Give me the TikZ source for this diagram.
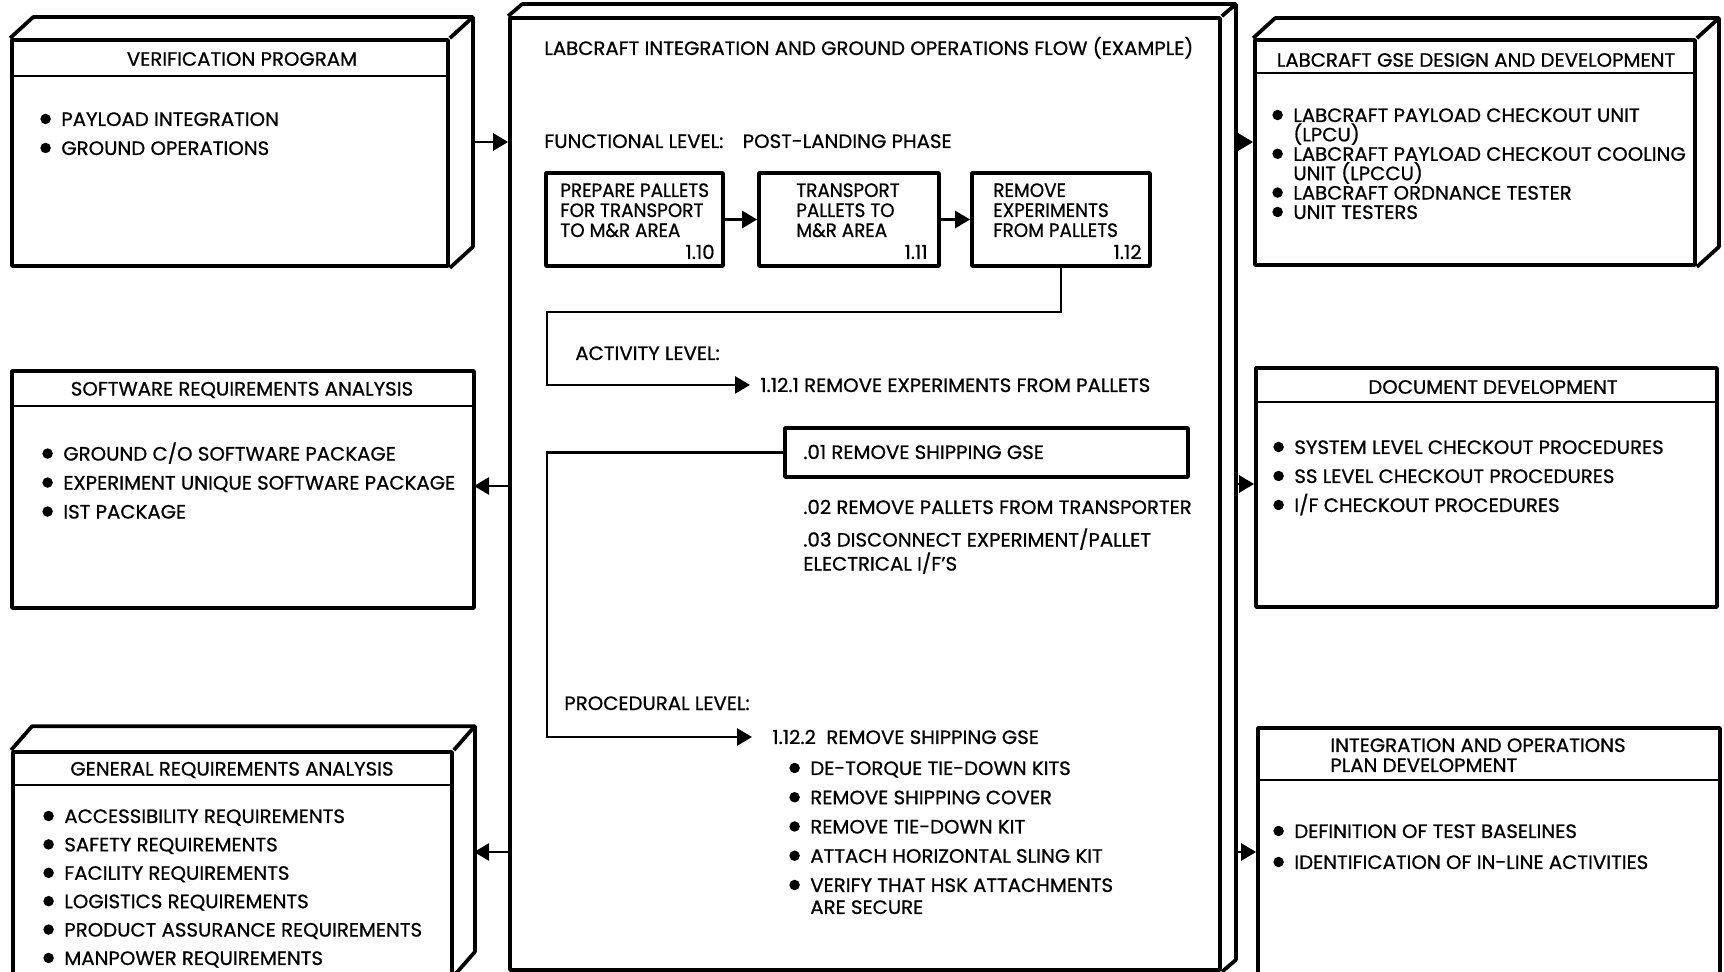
\documentclass[tikz,border=0pt]{standalone}
\usepackage{fontspec}
\setmainfont{Poppins}[FakeStretch=1.02,FakeBold=0.8]
\newfontfamily\narrowfont{Poppins}[FakeStretch=0.95,FakeBold=0.8]
\usetikzlibrary{arrows.meta,fit}
\newcommand\fsz[1]{\fontsize{11pt}{#1}\selectfont}
\newcommand\bu{\makebox[4.2mm][l]{\tikz[baseline=-1.4mm]\fill (1mm,0) circle (1.05mm);}}
\newcommand\nobu{\hspace*{4.2mm}}
\newcommand\boxdepth[3]{%
  \draw[frame] (#1.north west) -- ++(#2,-#3) -- ([shift={(#2,-#3)}]#1.north east) -- ([shift={(#2,-#3)}]#1.south east) -- (#1.south east);
  \draw[frame] (#1.north east) -- ++(#2,-#3);}
\begin{document}
\begin{tikzpicture}[x=0.02cm,y=-0.02cm,
  frame/.style={draw,line width=0.75mm,inner sep=0pt,line join=round},
  sep/.style={line width=0.55mm},
  conn/.style={line width=0.55mm},
  arr/.style={-{Triangle[length=3mm,width=3.4mm]}},
  txt/.style={inner sep=0pt,anchor=base west,font=\fsz{13pt}},
  ttl/.style={inner sep=0pt,anchor=center,font=\fsz{13pt}},
  lst/.style={inner sep=0pt,anchor=north west,align=left,font=\fsz{#1}},
  flst/.style={inner sep=0pt,anchor=north west,align=left,font=\narrowfont\fsz{4mm}},
]
\useasboundingbox (0,0) rectangle (1724,972);

% ---------- left column ----------
\node[frame,fit={(12,40) (448,266)}] (vp) {};
\boxdepth{vp}{23}{21}
\draw[sep] ([yshift=-7.6mm]vp.north west) -- ([yshift=-7.6mm]vp.north east);
\node[ttl] (vpt) at (242,59) {VERIFICATION PROGRAM};
\node[lst=5.8mm] (vpl) at (40,112) {\bu PAYLOAD INTEGRATION\\\bu GROUND OPERATIONS};

\node[frame,fit={(12,371) (474,608)}] (sw) {};
\draw[sep] ([yshift=-7.4mm]sw.north west) -- ([yshift=-7.4mm]sw.north east);
\node[ttl] (swt) at (242,390) {SOFTWARE REQUIREMENTS ANALYSIS};
\node[lst=5.8mm] (swl) at (42,442) {\bu GROUND C/O SOFTWARE PACKAGE\\\bu EXPERIMENT UNIQUE SOFTWARE PACKAGE\\\bu IST PACKAGE};

\node[frame,fit={(13,752) (452,974)}] (gr) {};
\boxdepth{gr}{21}{24}
\draw[sep] ([yshift=-7mm]gr.north west) -- ([yshift=-7mm]gr.north east);
\node[ttl] (grt) at (232,770) {GENERAL REQUIREMENTS ANALYSIS};
\node[lst=5.68mm] (grl) at (43,809) {\bu ACCESSIBILITY REQUIREMENTS\\\bu SAFETY REQUIREMENTS\\\bu FACILITY REQUIREMENTS\\\bu LOGISTICS REQUIREMENTS\\\bu PRODUCT ASSURANCE REQUIREMENTS\\\bu MANPOWER REQUIREMENTS};

% ---------- right column ----------
\node[frame,fit={(1255,40) (1695,265)}] (gse) {};
\boxdepth{gse}{22}{20}
\draw[sep] ([yshift=-7mm]gse.north west) -- ([yshift=-7mm]gse.north east);
\node[ttl] (gset) at (1476,60) {LABCRAFT GSE DESIGN AND DEVELOPMENT};
\node[lst=3.88mm] (gsel) at (1272,108) {\bu LABCRAFT PAYLOAD CHECKOUT UNIT\\\nobu (LPCU)\\\bu LABCRAFT PAYLOAD CHECKOUT COOLING\\\nobu UNIT (LPCCU)\\\bu LABCRAFT ORDNANCE TESTER\\\bu UNIT TESTERS};

\node[frame,fit={(1256,368) (1717,607)}] (doc) {};
\draw[sep] ([yshift=-7.2mm]doc.north west) -- ([yshift=-7.2mm]doc.north east);
\node[ttl] (doct) at (1493,387) {DOCUMENT DEVELOPMENT};
\node[lst=5.8mm] (docl) at (1273,440) {\bu SYSTEM LEVEL CHECKOUT PROCEDURES\\\bu SS LEVEL CHECKOUT PROCEDURES\\\bu I/F CHECKOUT PROCEDURES};

\node[frame,fit={(1258,728) (1720,995)}] (iop) {};
\draw[sep] ([yshift=-10.8mm]iop.north west) -- ([yshift=-10.8mm]iop.north east);
\node[lst=4mm] (iopt) at (1330,738) {INTEGRATION AND OPERATIONS\\PLAN DEVELOPMENT};
\node[lst=6.2mm] (iopl) at (1273,824) {\bu DEFINITION OF TEST BASELINES\\\bu IDENTIFICATION OF IN-LINE ACTIVITIES};

% ---------- central box ----------
\node[frame,fit={(510,18) (1220,970)}] (cen) {};
\boxdepth{cen}{14}{12}
\node[txt] (ctitle) at (544,55) {LABCRAFT INTEGRATION AND GROUND OPERATIONS FLOW (EXAMPLE)};
\node[txt] (flev) at (544,148) {FUNCTIONAL LEVEL:\quad POST-LANDING PHASE};

\node[frame,fit={(546,173) (723,266)}] (f1) {};
\node[frame,fit={(759,173) (939,266)}] (f2) {};
\node[frame,fit={(972,173) (1150,266)}] (f3) {};
\node[flst] (f1t) at (560,183) {PREPARE PALLETS\\FOR TRANSPORT\\TO M\&R AREA};
\node[txt,anchor=base east] (f1n) at (715,259) {1.10};
\node[flst] (f2t) at (796,183) {TRANSPORT\\PALLETS TO\\M\&R AREA};
\node[txt,anchor=base east] (f2n) at (928,259) {1.11};
\node[flst] (f3t) at (993,183) {REMOVE\\EXPERIMENTS\\FROM PALLETS};
\node[txt,anchor=base east] (f3n) at (1142,259) {1.12};
\draw[conn,arr] (f1) -- (f2);
\draw[conn,arr] (f2) -- (f3);

\node[txt] (alev) at (575,360) {ACTIVITY LEVEL:};
\node[txt,inner xsep=2mm] (a121) at (750,392) {1.12.1 REMOVE EXPERIMENTS FROM PALLETS};
\coordinate (k1) at (547,312);
\draw[conn,arr] (f3.south) |- (k1) |- (a121.west);

\node[frame,fit={(785,428) (1188,477)}] (s01) {};
\node[txt] (s01t) at (803,459) {.01 REMOVE SHIPPING GSE};
\node[txt] (s02) at (803,514) {.02 REMOVE PALLETS FROM TRANSPORTER};
\node[lst=4.8mm] (s03) at (803,528) {.03 DISCONNECT EXPERIMENT/PALLET\\ELECTRICAL I/F'S};

\node[txt] (plev) at (564,710) {PROCEDURAL LEVEL:};
\coordinate (k2) at (547,737);
\node[txt,inner xsep=4mm] (p122) at (752,744) {1.12.2\ \ REMOVE SHIPPING GSE};
\draw[conn,arr] (s01.west) -| (k2) -- (k2 -| p122.west);
\node[lst=5.85mm] (pl) at (789,761) {\bu DE-TORQUE TIE-DOWN KITS\\\bu REMOVE SHIPPING COVER\\\bu REMOVE TIE-DOWN KIT\\\bu ATTACH HORIZONTAL SLING KIT\\\bu VERIFY THAT HSK ATTACHMENTS\\[-1.45mm]\nobu ARE SECURE};

% ---------- connectors between columns ----------
\coordinate (vpR) at (472,142);
\draw[conn,arr] (vpR) -- (vpR -| cen.west);
\coordinate (swR) at (474,486);
\draw[conn,arr] (swR -| cen.west) -- (swR);
\coordinate (grR) at (474,852);
\draw[conn,arr] (grR -| cen.west) -- (grR);
\coordinate (cR1) at (1234,142);
\draw[conn,arr] (cR1) -- (cR1 -| gse.west);
\coordinate (cR2) at (1234,484);
\draw[conn,arr] (cR2) -- (cR2 -| doc.west);
\coordinate (cR3) at (1234,852);
\draw[conn,arr] (cR3) -- (cR3 -| iop.west);
\end{tikzpicture}
\end{document}
